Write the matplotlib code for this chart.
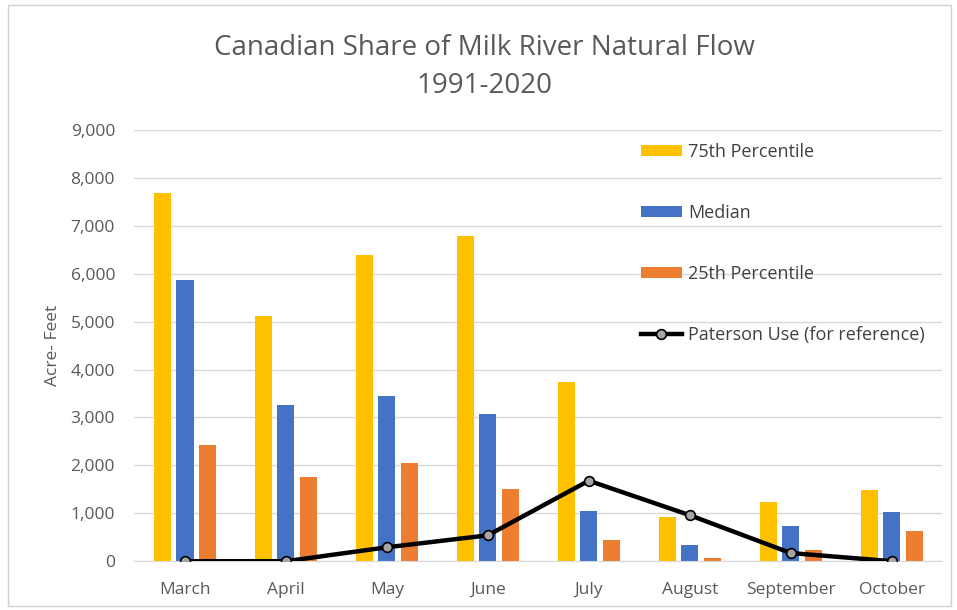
import matplotlib
matplotlib.use("Agg")
import matplotlib.pyplot as plt
import numpy as np
from matplotlib.patches import Rectangle

plt.rcParams['font.family'] = ['Open Sans', 'DejaVu Sans']

months = ['March', 'April', 'May', 'June', 'July', 'August', 'September', 'October']
p75 = [7680, 5120, 6390, 6790, 3740, 930, 1240, 1480]
median = [5870, 3270, 3440, 3080, 1050, 330, 740, 1020]
p25 = [2420, 1750, 2040, 1500, 450, 60, 230, 630]
paterson = [0, 0, 290, 540, 1680, 960, 170, 0]

C_YEL = '#FFC000'
C_BLU = '#4472C4'
C_ORG = '#ED7D31'
TXT = '#595959'
FS = 12.5

fig = plt.figure(figsize=(9.57, 6.10), dpi=100)
fig.patch.set_facecolor('white')
# thin frame round the whole chart
fig.patches.append(Rectangle((0.008, 0.006), 0.986, 0.986, transform=fig.transFigure,
                             fill=False, edgecolor='#d0d0d0', linewidth=1.0))

ax = fig.add_axes([0.1405, 0.080, 0.844, 0.707])
x = np.arange(len(months))
w = 0.17
off = 0.222
b1 = ax.bar(x - off, p75, w, color=C_YEL, label='75th Percentile', zorder=2)
b2 = ax.bar(x, median, w, color=C_BLU, label='Median', zorder=2)
b3 = ax.bar(x + off, p25, w, color=C_ORG, label='25th Percentile', zorder=2)
ln, = ax.plot(x, paterson, color='black', linewidth=3.2, marker='o', markersize=7,
              markerfacecolor='#a5a5a5', markeredgecolor='black', markeredgewidth=1.2,
              label='Paterson Use (for reference)', zorder=3)

ax.set_xlim(-0.5, len(months) - 0.5)
ax.set_ylim(0, 9000)
ax.set_yticks(np.arange(0, 9001, 1000))
ax.set_yticklabels([f'{v:,}' for v in range(0, 9001, 1000)])
ax.set_xticks(x)
ax.set_xticklabels(months)
ax.tick_params(axis='both', length=0, labelsize=FS, colors=TXT)
ax.tick_params(axis='y', pad=14)
ax.tick_params(axis='x', pad=15)
ax.grid(axis='y', color='#d9d9d9', linewidth=1.0, zorder=0)
ax.set_axisbelow(True)
for s in ['top', 'right', 'left']:
    ax.spines[s].set_visible(False)
ax.spines['bottom'].set_color('#d9d9d9')

ax.set_ylabel('Acre- Feet', fontsize=FS, color=TXT, labelpad=7)

fig.text(0.506, 0.921, 'Canadian Share of Milk River Natural Flow', ha='center', va='center',
         fontsize=20, color=TXT)
fig.text(0.506, 0.859, '1991-2020', ha='center', va='center', fontsize=20, color=TXT)

leg = ax.legend([b1, b2, b3, ln], [h.get_label() for h in (b1, b2, b3, ln)],
                loc='upper left', bbox_to_anchor=(0.660, 0.780),
                bbox_transform=fig.transFigure, frameon=False, borderpad=0,
                fontsize=13, labelspacing=2.38, handlelength=2.3, handleheight=0.55,
                handletextpad=0.35)
for t in leg.get_texts():
    t.set_color('#404040')

fig.savefig('out.png', dpi=100)
